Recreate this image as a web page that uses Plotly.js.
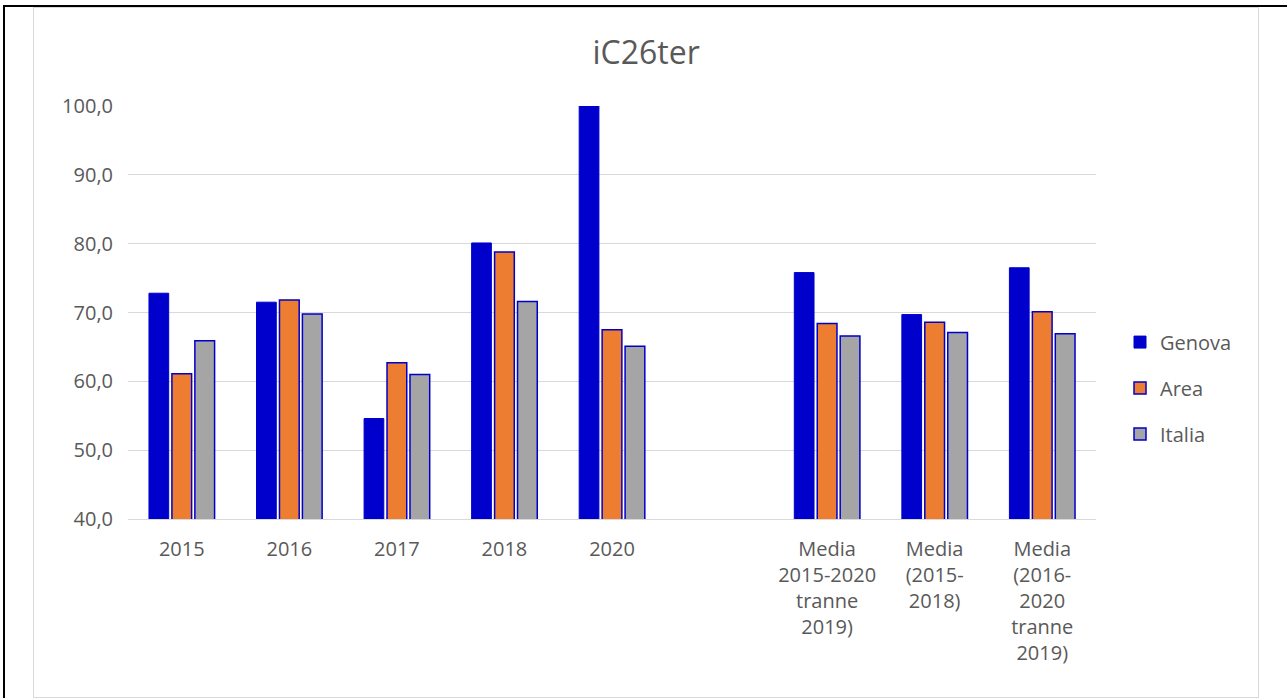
<!DOCTYPE html>
<html>
<head>
<meta charset="utf-8">
<script src="https://cdn.plot.ly/plotly-3.0.1.min.js"></script>
<style>
  html, body { margin: 0; padding: 0; background: #ffffff; }
  #wrap { position: relative; width: 1287px; height: 698px; overflow: hidden; }
  #chart { position: absolute; left: 0; top: 0; width: 1287px; height: 698px; }
  .blk-top { position: absolute; left: 3px; top: 5px; width: 1284px; height: 2px; background: #000; pointer-events: none; }
  .blk-left { position: absolute; left: 3px; top: 5px; width: 2px; height: 693px; background: #000; pointer-events: none; }
  .gray-box { position: absolute; left: 33px; top: 7px; width: 1224px; height: 689px; border: 1px solid #D9D9D9; pointer-events: none; }
</style>
</head>
<body>
<div id="wrap">
  <div id="chart"></div>
  <div class="gray-box"></div>
  <div class="blk-top"></div>
  <div class="blk-left"></div>
</div>
<script>
const categories = [
  "2015", "2016", "2017", "2018", "2020", " ",
  "Media<br>2015-2020<br>tranne<br>2019)",
  "Media<br>(2015-<br>2018)",
  "Media<br>(2016-<br>2020<br>tranne<br>2019)"
];
const genova = [72.8, 71.5, 54.6, 80.1, 100.0, null, 75.8, 69.7, 76.5];
const area   = [61.1, 71.8, 62.7, 78.8, 67.5, null, 68.4, 68.6, 70.1];
const italia = [65.9, 69.8, 61.0, 71.6, 65.1, null, 66.6, 67.1, 66.9];
const yTicks = [40, 50, 60, 70, 80, 90, 100];
const yTickText = ["40,0", "50,0", "60,0", "70,0", "80,0", "90,0", "100,0"];

const BLUE = "#0000CC";
const FONT = "Open Sans, Segoe UI, sans-serif";
const TXT = "#595959";

const traces = [
  { type: "bar", name: "Genova", x: categories, y: genova, legendgroup: "g1",
    marker: { color: BLUE, line: { color: BLUE, width: 1 } } },
  { type: "bar", name: "Area", x: categories, y: area, legendgroup: "g2",
    marker: { color: "#ED7D31", line: { color: BLUE, width: 1.5 } } },
  { type: "bar", name: "Italia", x: categories, y: italia, legendgroup: "g3",
    marker: { color: "#A5A5A5", line: { color: BLUE, width: 1.5 } } }
];

const layout = {
  width: 1287, height: 698,
  paper_bgcolor: "rgba(0,0,0,0)", plot_bgcolor: "#ffffff",
  margin: { l: 128, r: 191, t: 106, b: 179, pad: 0 },
  font: { family: FONT, color: TXT, size: 20 },
  title: { text: "iC26ter", font: { family: FONT, size: 32, color: TXT },
           x: 0.502, xref: "container", xanchor: "center",
           y: 0.925, yref: "container", yanchor: "middle" },
  barmode: "group", bargap: 0.36, bargroupgap: 0.14,
  hovermode: false,
  xaxis: {
    type: "category", categoryorder: "array", categoryarray: categories,
    showgrid: false, showline: true, linecolor: "#D9D9D9", linewidth: 1.3,
    ticks: "", ticklabelstandoff: 12,
    tickfont: { family: FONT, size: 20, color: TXT }, fixedrange: true
  },
  yaxis: {
    range: [40, 100], tickvals: yTicks, ticktext: yTickText,
    showgrid: true, gridcolor: "#D9D9D9", gridwidth: 1.3,
    zeroline: false, showline: false, ticks: "", ticklabelstandoff: 14,
    tickfont: { family: FONT, size: 20, color: TXT }, fixedrange: true
  },
  showlegend: true,
  legend: {
    x: 1.0248, xanchor: "left", y: 0.317, yanchor: "middle",
    traceorder: "grouped", tracegroupgap: 17,
    font: { family: FONT, size: 20, color: TXT },
    bgcolor: "rgba(0,0,0,0)", borderwidth: 0
  }
};

Plotly.newPlot("chart", traces, layout, { displayModeBar: false, staticPlot: true });
</script>
</body>
</html>
